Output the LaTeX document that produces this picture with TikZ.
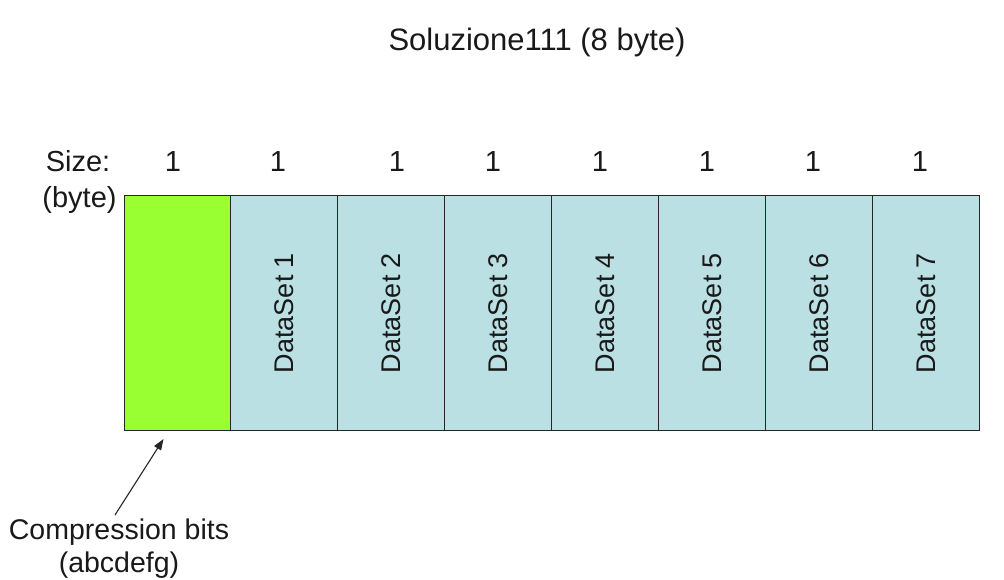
\documentclass[tikz,border=0pt]{standalone}
\usepackage{fontspec}
\setmainfont{Liberation Sans}
\usetikzlibrary{arrows.meta,calc}
\definecolor{cgreen}{RGB}{153,255,51}
\definecolor{cblue}{RGB}{187,224,227}
\begin{document}
\begin{tikzpicture}[x=1pt,y=-1pt,
  txt/.style={font=\fontsize{29}{34}\selectfont, inner sep=0pt, text=black!90},
  cell/.style={draw=black!85, line width=1pt, minimum width=106.9pt, minimum height=234pt, inner sep=0pt, outer sep=0pt, fill=cblue},
  dlabel/.style={txt, font=\fontsize{27}{32}\selectfont, rotate=90},
  arr/.style={-{Triangle[length=11pt,width=8pt]}, line width=1.1pt, black!85}]
\useasboundingbox (0,0) rectangle (1004,580);
\node[txt, font=\fontsize{31}{36}\selectfont] (title) at (537,42) {Soluzione111 (8 byte)};
\node[txt] (size) at (78,161) {Size:};
\node[txt] (byte) at (79.5,200) {(byte)};
\node[cell, fill=cgreen] (c0) at (177.45,313) {};
\foreach \i in {1,...,7}{
  \node[cell] (c\i) at ({177.45+106.9*\i},313) {};
  \node[dlabel] (d\i) at (c\i) {DataSet \i};
}
\foreach \x [count=\i from 0] in {173,278,397,493,600,707,813,920}{
  \node[txt] (n\i) at (\x,162) {1};
}
\node[txt, font=\fontsize{28.5}{33}\selectfont, align=center] (comp) at (119,549) {Compression bits\\(abcdefg)};
\coordinate (tail) at ([xshift=-4pt,yshift=4pt]comp.north);
\coordinate (tip) at (163.5,439);
\draw[arr] (tail) -- (tip);
\end{tikzpicture}
\end{document}
